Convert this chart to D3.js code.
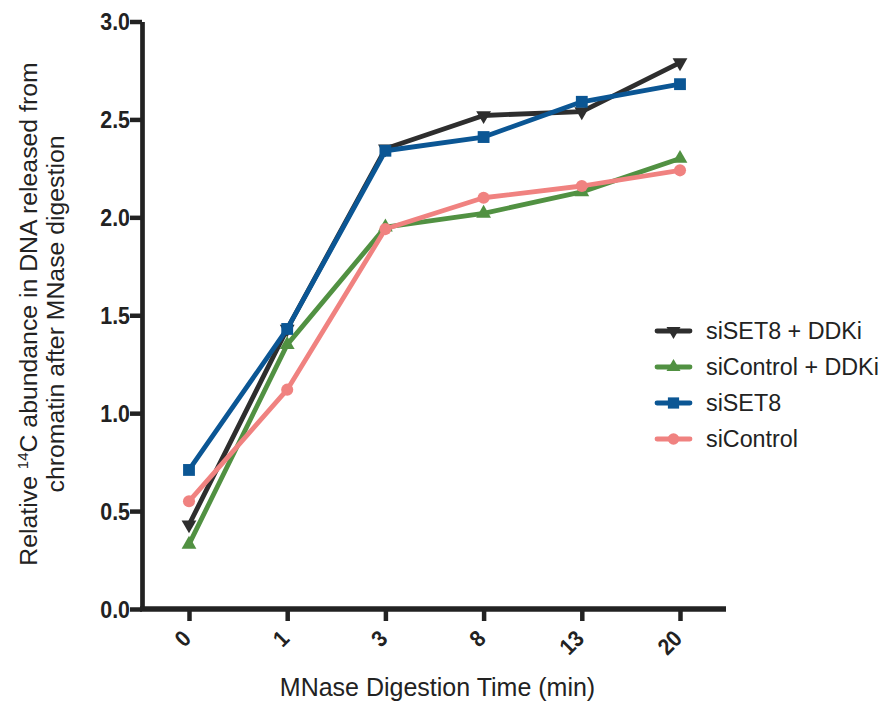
<!DOCTYPE html>
<html><head><meta charset="utf-8">
<script src="https://cdn.jsdelivr.net/npm/d3@7"></script>
<style>body{margin:0;background:#fff}svg{display:block}text{font-family:"Liberation Sans",Arial,sans-serif}</style>
</head><body>
<svg id="c" width="893" height="702"></svg>
<script>
const categories = ["0","1","3","8","13","20"];
const seriesNames = ["siSET8 + DDKi","siControl + DDKi","siSET8","siControl"];
const siSET8_DDKi = [0.43,1.43,2.35,2.52,2.54,2.79];
const siControl_DDKi = [0.33,1.35,1.95,2.02,2.13,2.30];
const siSET8 = [0.71,1.43,2.34,2.41,2.59,2.68];
const siControl = [0.55,1.12,1.94,2.10,2.16,2.24];
const yTicks = [0.0,0.5,1.0,1.5,2.0,2.5,3.0];

const colors = ["#2e2e2e","#519142","#0b5694","#f08280"];
const symbols = [d3.symbolTriangle, d3.symbolTriangle, d3.symbolSquare, d3.symbolCircle];
const rot = [180,0,0,0];
const symSize = [95,95,140,115];
const seriesData = [siSET8_DDKi, siControl_DDKi, siSET8, siControl];

const svg = d3.select("#c");
const x = d3.scalePoint().domain(categories).range([189,680]);
const y = d3.scaleLinear().domain([0,3]).range([609,21.5]);

function squeeze(sel, f){
  sel.each(function(){
    const L = this.getComputedTextLength();
    d3.select(this).attr("textLength", L*f).attr("lengthAdjust","spacingAndGlyphs");
  });
}

// axes
const gy = svg.append("g").attr("transform","translate(142,0)")
  .call(d3.axisLeft(y).tickValues(yTicks).tickFormat(d3.format(".1f")).tickSize(12).tickSizeOuter(0));
gy.select(".domain").attr("stroke","#222").attr("stroke-width",4.7);
gy.selectAll(".tick line").attr("stroke","#222").attr("stroke-width",4.5);
gy.selectAll(".tick text").attr("font-size",23).attr("font-weight","bold").attr("fill","#222")
  .attr("x",-12).attr("dy","0.36em");
squeeze(gy.selectAll(".tick text"), 0.93);

const gx = svg.append("g").attr("transform","translate(0,609)")
  .call(d3.axisBottom(x).tickSize(12).tickSizeOuter(0));
gx.select(".domain").attr("d","M140,0H726").attr("stroke","#222").attr("stroke-width",5.5);
gx.selectAll(".tick line").attr("stroke","#222").attr("stroke-width",4.5);
gx.selectAll(".tick text").attr("font-size",23).attr("font-weight","bold").attr("fill","#222")
  .attr("text-anchor","end").attr("dy",0).attr("y",0)
  .attr("transform","translate(3,31) rotate(-45)");
squeeze(gx.selectAll(".tick text"), 0.9);

// lines
const line = d3.line().x((d,i)=>x(categories[i])).y(d=>y(d));
seriesData.forEach((s,k)=>{
  svg.append("path").attr("d",line(s)).attr("fill","none").attr("stroke",colors[k])
    .attr("stroke-width",4.8).attr("stroke-linejoin","round");
});
seriesData.forEach((s,k)=>{
  svg.append("g").selectAll("path").data(s).join("path")
    .attr("d",d3.symbol().type(symbols[k]).size(symSize[k]))
    .attr("transform",(d,i)=>`translate(${x(categories[i])},${y(d)}) rotate(${rot[k]})`)
    .attr("fill",colors[k]);
});

// legend
const lg = svg.append("g");
seriesNames.forEach((n,k)=>{
  const yy = 331 + k*36;
  lg.append("line").attr("x1",657).attr("x2",690).attr("y1",yy).attr("y2",yy)
    .attr("stroke",colors[k]).attr("stroke-width",4.8).attr("stroke-linecap","round");
  lg.append("path").attr("d",d3.symbol().type(symbols[k]).size(symSize[k]*0.9))
    .attr("transform",`translate(673.5,${yy}) rotate(${rot[k]})`).attr("fill",colors[k]);
  lg.append("text").attr("x",706).attr("y",yy+8).attr("font-size",23.3).attr("fill","#222").text(n);
});

// axis titles
svg.append("text").attr("x",437.5).attr("y",696).attr("text-anchor","middle").attr("font-size",25)
  .attr("fill","#222").text("MNase Digestion Time (min)");
const yt = svg.append("g").attr("transform","translate(0,314) rotate(-90)");
const t1 = yt.append("text").attr("x",0).attr("y",37).attr("text-anchor","middle").attr("font-size",24.8).attr("fill","#222");
t1.append("tspan").text("Relative ");
t1.append("tspan").attr("font-size",15).attr("dy",-9).text("14");
t1.append("tspan").attr("dy",9).text("C abundance in DNA released from");
yt.append("text").attr("x",0).attr("y",64).attr("text-anchor","middle").attr("font-size",24.8).attr("fill","#222")
  .text("chromatin after MNase digestion");
</script>
</body></html>
